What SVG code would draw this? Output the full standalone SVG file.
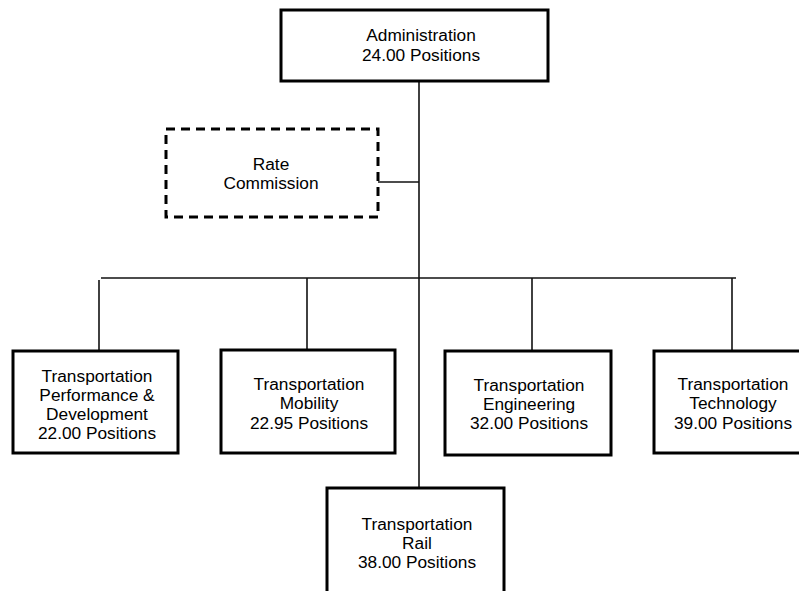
<svg xmlns="http://www.w3.org/2000/svg" width="799" height="591" viewBox="0 0 799 591">
<style>
.box{fill:#fff;stroke:#000;stroke-width:3}
.dash{fill:#fff;stroke:#000;stroke-width:3;stroke-dasharray:9 6}
.ln{stroke:#111;stroke-width:1.6;fill:none}
text{font-family:"Liberation Sans",Arial,sans-serif;font-size:17.3px;fill:#000;text-anchor:middle}
</style>
<rect width="799" height="591" fill="#fff"/>
<g id="connectors">
<line class="ln" x1="419" y1="81" x2="419" y2="488"/>
<line class="ln" x1="378" y1="182" x2="419" y2="182"/>
<line class="ln" x1="101" y1="278" x2="736" y2="278"/>
<line class="ln" x1="99" y1="280" x2="99" y2="351"/>
<line class="ln" x1="307" y1="278" x2="307" y2="350"/>
<line class="ln" x1="532" y1="278" x2="532" y2="351"/>
<line class="ln" x1="732" y1="278" x2="732" y2="351"/>
</g>
<g id="admin">
<rect class="box" x="281" y="10" width="267" height="71"/>
<text x="421" y="41">Administration</text>
<text x="421" y="61">24.00 Positions</text>
</g>
<g id="rate">
<rect class="dash" x="166" y="129" width="212" height="88"/>
<text x="271" y="170">Rate</text>
<text x="271" y="189">Commission</text>
</g>
<g id="performance">
<rect class="box" x="13" y="351" width="165" height="102"/>
<text x="97" y="382">Transportation</text>
<text x="97" y="401">Performance &amp;</text>
<text x="97" y="420">Development</text>
<text x="97" y="439">22.00 Positions</text>
</g>
<g id="mobility">
<rect class="box" x="221" y="350" width="174" height="103"/>
<text x="309" y="390">Transportation</text>
<text x="309" y="409">Mobility</text>
<text x="309" y="429">22.95 Positions</text>
</g>
<g id="engineering">
<rect class="box" x="445" y="351" width="166" height="104"/>
<text x="529" y="391">Transportation</text>
<text x="529" y="410">Engineering</text>
<text x="529" y="429">32.00 Positions</text>
</g>
<g id="technology">
<rect class="box" x="654" y="351" width="150" height="102"/>
<text x="733" y="390">Transportation</text>
<text x="733" y="409">Technology</text>
<text x="733" y="429">39.00 Positions</text>
</g>
<g id="rail">
<rect class="box" x="327" y="488" width="177" height="110"/>
<text x="417" y="530">Transportation</text>
<text x="417" y="549">Rail</text>
<text x="417" y="568">38.00 Positions</text>
</g>
</svg>
